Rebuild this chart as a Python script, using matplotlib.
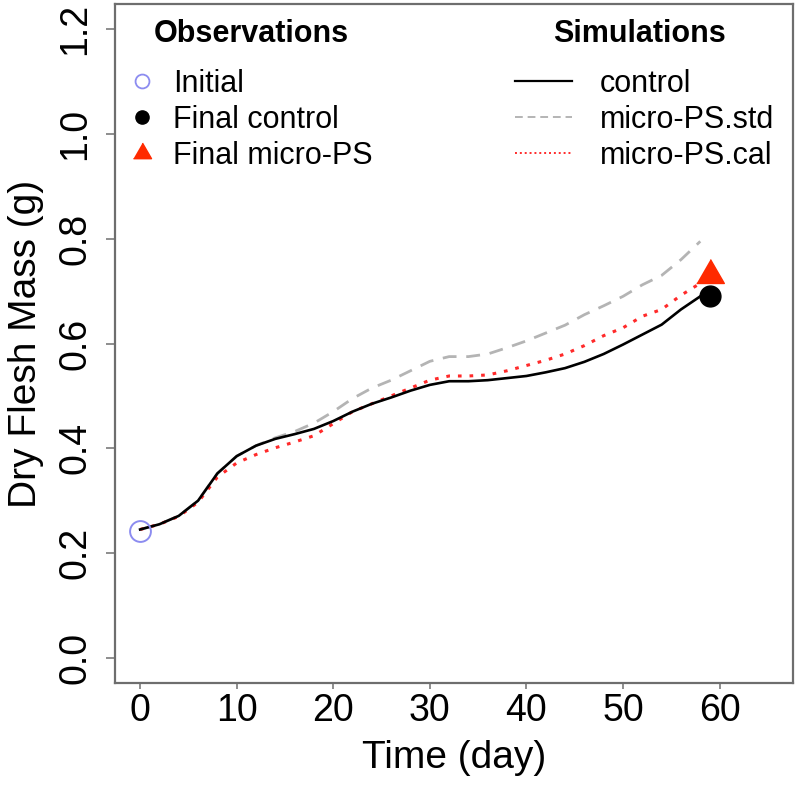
import numpy as np
import matplotlib.pyplot as plt
from matplotlib.lines import Line2D

plt.rcParams['font.family'] = ['Liberation Sans', 'DejaVu Sans']

# ======================
# Datos
# ======================
dias = [0, 2, 4, 6, 8, 10, 12, 14, 16, 18, 20, 22, 24, 26, 28,
        30, 32, 34, 36, 38, 40, 42, 44, 46, 48, 50, 52, 54, 56, 58]

control = [0.245, 0.255, 0.271, 0.300, 0.352, 0.385, 0.405, 0.418, 0.427, 0.437,
           0.452, 0.470, 0.485, 0.497, 0.510, 0.521, 0.528, 0.528, 0.530, 0.534,
           0.538, 0.545, 0.553, 0.565, 0.580, 0.598, 0.617, 0.636, 0.665, 0.690]

micro_std = [0.245, 0.255, 0.271, 0.300, 0.352, 0.385, 0.405, 0.420, 0.432, 0.448,
             0.470, 0.495, 0.515, 0.530, 0.548, 0.566, 0.575, 0.575, 0.580, 0.592,
             0.605, 0.620, 0.635, 0.655, 0.672, 0.690, 0.712, 0.730, 0.760, 0.795]

micro_cal = [0.245, 0.255, 0.270, 0.297, 0.345, 0.372, 0.388, 0.401, 0.412, 0.424,
             0.447, 0.470, 0.485, 0.500, 0.515, 0.530, 0.538, 0.538, 0.540, 0.548,
             0.558, 0.568, 0.580, 0.596, 0.615, 0.630, 0.652, 0.665, 0.692, 0.715]

obs_inicial = (0, 0.242)
obs_control = (59, 0.691)
obs_micro = (59, 0.731)

xticks = [0, 10, 20, 30, 40, 50, 60]
yticks = [0.0, 0.2, 0.4, 0.6, 0.8, 1.0, 1.2]

# triangulo equilatero (como pch 17 de R)
tri = [(-1, -0.577), (1, -0.577), (0, 1.155)]

# ======================
# Figura
# ======================
fig = plt.figure(figsize=(7.95, 7.85), dpi=100)
ax = fig.add_axes([115/795, 1 - 683/785, (793 - 115)/795, (683 - 4)/785])

ax.plot(dias, micro_std, color="#b4b4b4", lw=2.0, dashes=(5, 3.5))
ax.plot(dias, micro_cal, color="#ff2a2a", lw=2.2, dashes=(1.2, 2.6))
ax.plot(dias, control, color="black", lw=1.9)

ax.plot(*obs_inicial, marker="o", ms=15, mfc="none", mec="#8c8cf0", mew=1.4)
ax.plot(*obs_control, marker="o", ms=15, color="black")
ax.plot(*obs_micro, marker=tri, ms=23, color="#ff2a00")

ax.set_xlim(-2.6, 67.6)
ax.set_ylim(-0.048, 1.248)
ax.set_xticks(xticks)
ax.set_yticks(yticks)
ax.set_yticklabels([f"{v:.1f}" for v in yticks], rotation=90, va="center")

for s in ax.spines.values():
    s.set_color("#6e6e6e")
    s.set_linewidth(1.6)
ax.tick_params(direction="out", width=1.2, color="#7a7a7a", labelsize=27)
ax.tick_params(axis="x", length=4, pad=3)
ax.tick_params(axis="y", length=6.5, pad=9)

ax.set_xlabel("Time (day)", fontsize=28, labelpad=8)
ax.set_ylabel("Dry Flesh Mass (g)", fontsize=28, labelpad=10)

# Leyendas (titulos aparte, como en R)
ax.text(0.2006, 0.9558, "Observations", transform=ax.transAxes, fontsize=22,
        fontweight="bold", ha="center", va="center")
ax.text(0.7743, 0.9558, "Simulations", transform=ax.transAxes, fontsize=22,
        fontweight="bold", ha="center", va="center")

h_obs = [Line2D([], [], ls="none", marker="o", ms=10, mfc="none", mec="#8c8cf0", mew=1.3),
         Line2D([], [], ls="none", marker="o", ms=9.5, color="black"),
         Line2D([], [], ls="none", marker=tri, ms=15, color="#ff2a00")]
leg1 = ax.legend(h_obs, ["Initial", "Final control", "Final micro-PS"],
                 loc="upper left", bbox_to_anchor=(0.0221, 0.9046), frameon=False,
                 fontsize=22, handlelength=0.8, handletextpad=0.61,
                 labelspacing=0.2, borderpad=0, borderaxespad=0)
ax.add_artist(leg1)

h_sim = [Line2D([], [], color="black", lw=1.6),
         Line2D([], [], color="#b4b4b4", lw=1.4, dashes=(4, 2.5)),
         Line2D([], [], color="#ff2a2a", lw=1.4, dashes=(1, 1.5))]
ax.legend(h_sim, ["control", "micro-PS.std", "micro-PS.cal"],
          loc="upper left", bbox_to_anchor=(0.590, 0.9046), frameon=False,
          fontsize=22, handlelength=1.86, handletextpad=0.92,
          labelspacing=0.2, borderpad=0, borderaxespad=0)

fig.savefig("out.png", dpi=100)
